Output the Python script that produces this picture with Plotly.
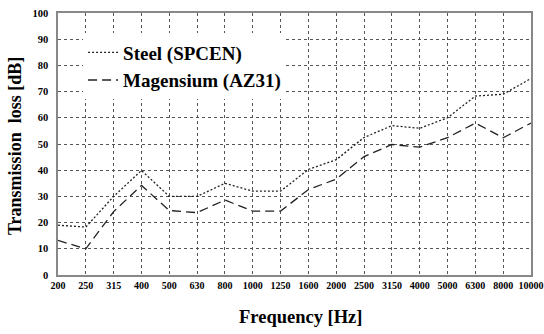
import plotly.graph_objects as go

freqs = ["200", "250", "315", "400", "500", "630", "800", "1000", "1250", "1600",
         "2000", "2500", "3150", "4000", "5000", "6300", "8000", "10000"]
steel = [19, 18.3, 30, 39.9, 30, 30, 35, 32, 32, 40.3, 44, 52.5, 57, 56, 60, 68.3, 69, 75]
magnesium = [13.2, 10, 24.2, 34.2, 24.6, 23.8, 28.6, 24.4, 24.4, 32.6, 36.6, 45.2, 49.8, 48.8, 52.4, 58, 52.4, 58]

font_serif = "Liberation Serif"

fig = go.Figure()
fig.add_trace(go.Scatter(x=freqs, y=steel, mode="lines", name="<b>Steel (SPCEN)</b>",
                         line=dict(color="#222222", width=1.3, dash="2px,2px")))
fig.add_trace(go.Scatter(x=freqs, y=magnesium, mode="lines", name="<b>Magensium (AZ31)</b>",
                         line=dict(color="#222222", width=1.3, dash="9px,5px")))

fig.update_layout(
    width=544, height=334,
    margin=dict(l=58, r=13, t=13, b=59),
    paper_bgcolor="white", plot_bgcolor="white",
    font=dict(family=font_serif, color="black"),
    showlegend=True,
    legend=dict(x=0.053, y=0.922, xanchor="left", yanchor="top",
                bgcolor="white", borderwidth=0,
                font=dict(size=19, family=font_serif, color="black"),
                itemwidth=30, tracegroupgap=0),
    xaxis=dict(
        type="category", range=[0, 17], automargin=False,
        showgrid=True, gridcolor="#555555", griddash="dot", gridwidth=1,
        showline=True, linecolor="#888888", linewidth=1.5, mirror=True,
        ticks="", tickfont=dict(size=10, family=font_serif, color="black"),
        tickprefix="<b>", ticksuffix="</b>",
    ),
    yaxis=dict(
        range=[0, 100], dtick=10, automargin=False,
        showgrid=True, gridcolor="#555555", griddash="dot", gridwidth=1,
        showline=True, linecolor="#888888", linewidth=1.5, mirror=True,
        ticks="", tickfont=dict(size=10.5, family=font_serif, color="black"),
        tickprefix="<b>", ticksuffix="</b>", ticklabelstandoff=6,
        zeroline=False,
    ),
)

fig.add_annotation(text="<b>Frequency [Hz]</b>", xref="paper", yref="paper",
                   x=0.512, y=-0.16, showarrow=False, xanchor="center", yanchor="middle",
                   font=dict(size=18.5, family=font_serif, color="black"))
fig.add_annotation(text="<b>Transmission  loss [dB]</b>", xref="paper", yref="paper",
                   x=-0.091, y=0.492, showarrow=False, xanchor="center", yanchor="middle",
                   textangle=-90, font=dict(size=18, family=font_serif, color="black"))

fig.write_html("out.html")
